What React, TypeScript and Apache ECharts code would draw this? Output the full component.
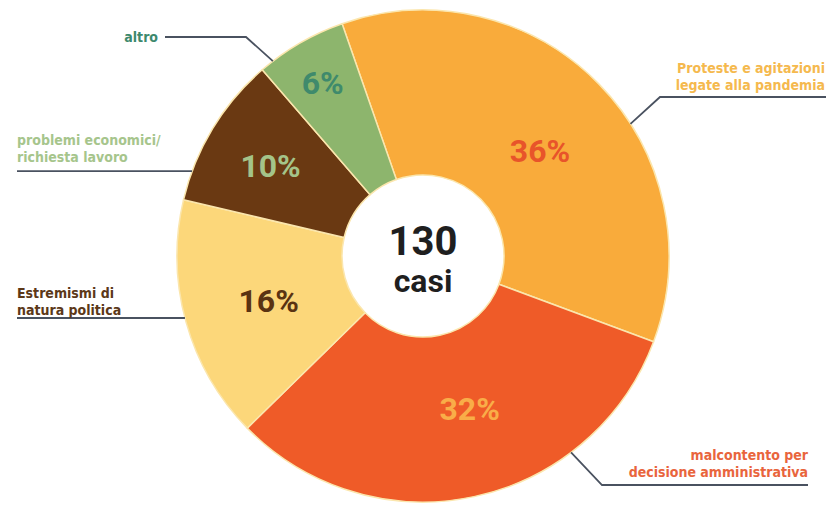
import React, { useEffect, useRef } from 'react';
import * as echarts from 'echarts';

// ---- data ----
const categories = [
  'Proteste e agitazioni\nlegate alla pandemia',
  'malcontento per\ndecisione amministrativa',
  'Estremismi di\nnatura politica',
  'problemi economici/\nrichiesta lavoro',
  'altro',
];
const shares = [36, 32, 16, 10, 6];
const totalCases = '130';
const totalUnit = 'casi';

// ---- styles ----
const sliceColors = ['#f9ab3b', '#ef5b28', '#fcd77a', '#6a3912', '#8db56d'];
const percentColors = ['#e8542a', '#f9ad48', '#5a3312', '#a4c489', '#3f8a6c'];
const nameColors = ['#f5b94e', '#e9653d', '#5c3818', '#a6c58c', '#3d896d'];
// nudges of the percent labels from the ring's mid radius
const percentOffsets = [[-2, 11], [12, -10], [6, 0], [-10, -4], [-17, -29]];

const CX = 423;
const CY = 256;
const R_IN = 81;
const R_OUT = 246;
const LINE_COLOR = '#4a5260';

// leader-line / label placement for the outer names
const outerLayout = [
  { deg: 57.5, elbow: [660, 97], end: 826, tx: 825, ty: 93, align: 'right', va: 'bottom' },
  { deg: 143, elbow: [602, 485], end: 808, tx: 808, ty: 480, align: 'right', va: 'bottom' },
  { deg: 255.4, elbow: null, end: 17, tx: 17, ty: 318, align: 'left', va: 'bottom' },
  { deg: 290.2, elbow: null, end: 17, tx: 17, ty: 165, align: 'left', va: 'bottom' },
  { deg: 322.4, elbow: [246, 37], end: 165, tx: 158, ty: 37, align: 'right', va: 'middle' },
];

const FONT = '"Liberation Sans Narrow", "DejaVu Sans Condensed", sans-serif';

export default function App() {
  const ref = useRef<HTMLDivElement>(null);
  useEffect(() => {
    if (!ref.current) return;
    const chart = echarts.init(ref.current, undefined, { renderer: 'svg' });
    const inner = shares.map((v, i) => ({
      value: v,
      name: categories[i],
      itemStyle: { color: sliceColors[i] },
      label: { color: percentColors[i], offset: percentOffsets[i] },
    }));
    const outer = shares.map((v, i) => ({
      value: v,
      name: categories[i],
      label: { color: nameColors[i], align: outerLayout[i].align },
    }));
    chart.setOption({
      animation: false,
      backgroundColor: '#ffffff',
      series: [
        {
          type: 'pie',
          center: [CX, CY],
          radius: [R_IN, R_OUT],
          startAngle: 109.2,
          clockwise: true,
          silent: true,
          data: inner,
          itemStyle: { borderColor: '#fbe6ad', borderWidth: 1.5 },
          label: {
            show: true,
            position: 'inside',
            formatter: '{c}%',
            fontFamily: 'Roboto, sans-serif',
            fontWeight: 'bold',
            fontSize: 32,
          },
          labelLine: { show: false },
        },
        {
          type: 'pie',
          center: [CX, CY],
          radius: [R_IN, R_OUT],
          startAngle: 109.2,
          clockwise: true,
          silent: true,
          z: 3,
          data: outer,
          itemStyle: { color: 'rgba(0,0,0,0)', borderWidth: 0 },
          label: {
            show: true,
            position: 'outside',
            formatter: '{b}',
            fontFamily: FONT,
            fontWeight: 'bold',
            fontSize: 14,
            lineHeight: 17,
          },
          labelLine: {
            show: true,
            smooth: false,
            length: 20,
            length2: 20,
            lineStyle: { color: LINE_COLOR, width: 1.8 },
          },
          labelLayout: (params: any) => {
            const L = outerLayout[params.dataIndex];
            const a = (L.deg * Math.PI) / 180;
            const anchor = [CX + R_OUT * Math.sin(a), CY - R_OUT * Math.cos(a)];
            const elbow = L.elbow ? L.elbow : anchor;
            return {
              x: L.tx,
              y: L.ty,
              align: L.align,
              verticalAlign: L.va,
              labelLinePoints: [anchor, elbow, [L.end, elbow[1]]],
            };
          },
        },
      ],
      graphic: [
        {
          type: 'text',
          x: CX,
          y: 241,
          style: {
            text: totalCases,
            align: 'center',
            verticalAlign: 'middle',
            fontFamily: 'Roboto, sans-serif',
            fontWeight: 'bold',
            fontSize: 40,
            fill: '#1f1f1f',
          },
        },
        {
          type: 'text',
          x: CX,
          y: 281,
          style: {
            text: totalUnit,
            align: 'center',
            verticalAlign: 'middle',
            fontFamily: 'Roboto, sans-serif',
            fontWeight: 'bold',
            fontSize: 32,
            fill: '#1f1f1f',
          },
        },
      ],
    });
    return () => chart.dispose();
  }, []);
  return (
    <div
      ref={ref}
      style={{ position: 'absolute', left: 0, top: 0, width: 826, height: 505 }}
    />
  );
}
